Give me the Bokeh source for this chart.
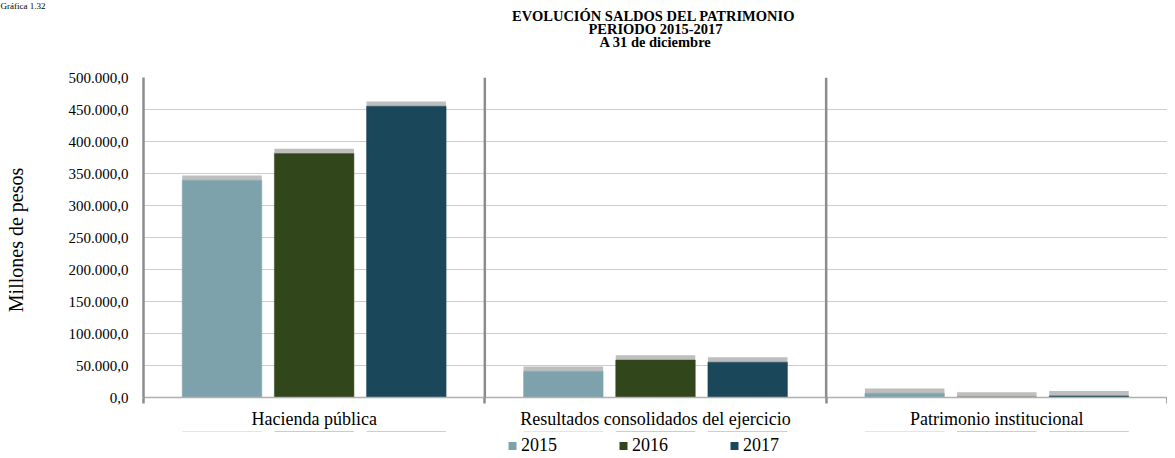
from bokeh.plotting import figure
from bokeh.layouts import column
from bokeh.models import (ColumnDataSource, Span, Legend, LegendItem, FixedTicker,
                          CustomJSTickFormatter, SingleIntervalTicker, Title, Range1d)
from bokeh.embed import file_html
from bokeh.resources import INLINE

# ---- data ----
categories = ["Hacienda pública", "Resultados consolidados del ejercicio", "Patrimonio institucional"]
years = ["2015", "2016", "2017"]
v2015 = [339400, 41000, 6500]
v2016 = [381100, 58400, 800]
v2017 = [455100, 55200, 2500]
colors = ["#7EA2AC", "#31461A", "#1B475B"]
series = [v2015, v2016, v2017]
title_lines = ["EVOLUCIÓN  SALDOS DEL PATRIMONIO", "PERIODO 2015-2017", "A 31 de diciembre"]
chart_number = "Gráfica  1.32"

cat_x = [i + 0.5 for i in range(len(categories))]
offsets = [-0.27, 0.0, 0.27]
bar_w = 0.233
shadow_h = 7500

FONT = "Liberation Serif"

p = figure(width=1167, height=430, frame_width=1024, frame_height=320,
           output_backend="svg", toolbar_location=None,
           x_range=Range1d(0, len(categories)), y_range=Range1d(0, 500000),
           min_border_left=143, min_border_right=0, min_border_top=77, min_border_bottom=33)
p.outline_line_color = None
p.background_fill_color = "white"

# titles (p.title is outermost; added ones stack from the frame outward)
p.title = Title(text=chart_number, align="left", offset=-143, text_font=FONT,
                text_font_style="normal", text_font_size="9px", text_color="black", standoff=-4)
# blank (white) spacer between the title block and the plot frame
p.add_layout(Title(text="\u00a0", text_font=FONT, text_font_size="12px", text_color="white",
                   standoff=14), "above")
for line in reversed(title_lines):
    p.add_layout(Title(text=line, align="center", text_font=FONT, text_font_style="bold",
                       text_font_size="14.5px", text_color="black", standoff=-5), "above")

# grid
p.xgrid.grid_line_color = None
p.ygrid.grid_line_color = "#9a9a9a"
p.ygrid.grid_line_dash = "1 1"
p.ygrid.grid_line_width = 1

# separators between categories
for loc in range(1, len(categories)):
    p.add_layout(Span(location=loc, dimension="height", line_color="#8c8c8c", line_width=2.5))

for yr, vals, col, off in zip(years, series, colors, offsets):
    xs = [c + off for c in cat_x]
    src = ColumnDataSource(dict(x=xs, top=vals, stop=[v + shadow_h for v in vals], bottom=vals))
    p.vbar(x="x", top="stop", bottom="bottom", width=bar_w, source=src,
           fill_color="#a8a8a8", fill_alpha=0.75, line_color=None)
    p.vbar(x="x", top="top", bottom=0, width=bar_w, source=src,
           fill_color=col, line_color=col, line_width=0.5)

# axes
p.yaxis.ticker = SingleIntervalTicker(interval=50000, num_minor_ticks=0)
p.yaxis.formatter = CustomJSTickFormatter(code="""
const s = Math.round(tick).toString().replace(/\\B(?=(\\d{3})+(?!\\d))/g, ".");
return s + ",0";
""")
p.yaxis.axis_line_color = "#8c8c8c"
p.yaxis.axis_line_width = 2.5
p.yaxis.major_tick_line_color = None
p.yaxis.minor_tick_line_color = None
p.yaxis.major_label_text_font = FONT
p.yaxis.major_label_text_font_size = "15px"
p.yaxis.major_label_text_color = "black"
p.yaxis.major_label_standoff = 9
p.yaxis.axis_label = "Millones  de pesos"
p.yaxis.axis_label_text_font = FONT
p.yaxis.axis_label_text_font_style = "normal"
p.yaxis.axis_label_text_font_size = "20px"
p.yaxis.axis_label_text_color = "black"
p.yaxis.axis_label_standoff = 39

p.xaxis.ticker = FixedTicker(ticks=cat_x, minor_ticks=list(range(len(categories) + 1)))
p.xaxis.formatter = CustomJSTickFormatter(args=dict(cats=categories),
                                          code="return cats[Math.floor(tick)];")
p.xaxis.axis_line_color = "#b0b0b0"
p.xaxis.axis_line_width = 1.5
p.xaxis.major_tick_line_color = None
p.xaxis.major_tick_out = 0
p.xaxis.major_tick_in = 0
p.xaxis.minor_tick_line_color = "#8c8c8c"
p.xaxis.minor_tick_line_width = 2.5
p.xaxis.minor_tick_out = 6
p.xaxis.minor_tick_in = 0
p.xaxis.major_label_text_font = FONT
p.xaxis.major_label_text_font_size = "18px"
p.xaxis.major_label_text_color = "black"
p.xaxis.major_label_standoff = 5

# ---- legend strip (separate small figure under the chart) ----
lg = figure(width=1167, height=28, output_backend="svg", toolbar_location=None,
            x_range=Range1d(0, len(categories)), y_range=Range1d(0, 1),
            x_axis_type=None, y_axis_type=None,
            min_border_left=143, min_border_right=0, min_border_top=0, min_border_bottom=0)
lg.outline_line_color = None
lg.xgrid.grid_line_color = None
lg.ygrid.grid_line_color = None
items = []
for yr, vals, col, off in zip(years, series, colors, offsets):
    xs = [c + off for c in cat_x]
    # zero-height bars far outside the strip's y range: only their legend swatch shows
    r = lg.vbar(x=xs, top=vals, bottom=vals, width=bar_w, fill_color=col, line_color=None)
    items.append(LegendItem(label=yr, renderers=[r]))
legend = Legend(items=items, orientation="horizontal", location="center",
                glyph_width=10, glyph_height=10, label_standoff=4, label_width=60,
                spacing=37, padding=0, margin=0, border_line_color=None,
                background_fill_alpha=0, label_text_font=FONT, label_text_font_size="18px",
                label_text_color="black")
lg.add_layout(legend)

layout = column(p, lg, spacing=0)
open("out.html", "w").write(file_html(layout, INLINE))
